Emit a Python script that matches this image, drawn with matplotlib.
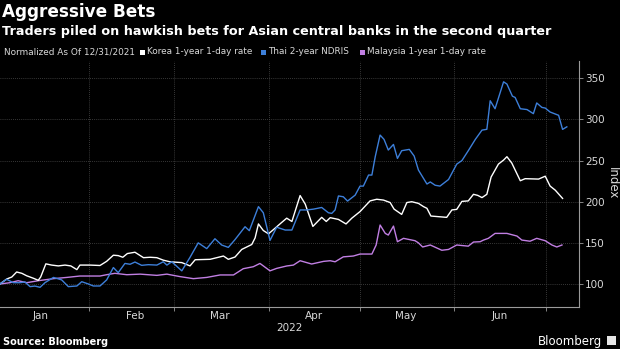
#!/usr/bin/env python3
"""
Aggressive Bets - Bloomberg style line chart of normalized rate bets
"""

import datetime as dt
import matplotlib
matplotlib.use("Agg")
import matplotlib.pyplot as plt
import matplotlib.dates as mdates
from matplotlib.patches import Rectangle

# Data (x = days after 2022-01-01, y = index, 12/31/2021 = 100)
korea_days = [1.6, 3.8, 5.5, 7.1, 8.8, 10.4, 12.6, 14.2, 15.0, 16.7, 18.6, 20.8, 23.0, 24.9,
              26.9, 27.9, 31.2, 34.5, 36.7, 38.9, 40.5, 42.0, 43.5, 46.0, 48.8, 51.0, 53.2,
              55.3, 57.5, 61.4, 64.1, 65.8, 70.7, 75.1, 76.7, 78.9, 81.1, 84.4, 85.5, 86.6,
              88.2, 89.9, 91.5, 94.3, 95.9, 97.6, 100.3, 102.0, 104.5, 107.4, 108.9, 110.2,
              112.9, 115.4, 117.3, 120.0, 123.3, 125.5, 127.7, 129.9, 131.2, 133.7, 135.4,
              137.0, 139.2, 140.9, 142.0, 143.3, 148.5, 150.2, 151.8, 153.5, 155.6, 157.3,
              158.7, 160.1, 161.7, 163.1, 165.5, 167.2, 168.3, 169.9, 172.7, 174.3, 178.7,
              180.9, 182.5, 184.2, 186.6]
korea_vals = [100, 106, 108.5, 114.6, 113, 110, 107, 104.5, 108.5, 124.5, 123, 122, 123, 122,
              117.5, 123, 123, 122.5, 127.6, 135, 134.5, 132.5, 137, 138.6, 132, 132.5, 132,
              129, 127, 126, 122, 129.5, 130, 134, 130, 132.8, 142, 148, 156, 173,
              165, 161, 166, 175, 180, 176, 207.5, 197, 170, 181, 176, 180.6,
              178.5, 173, 180, 188, 201, 203, 202, 199, 191, 184.6, 199,
              200, 198, 194, 192, 182.6, 181, 190, 190.7, 200.4, 201, 209,
              207.7, 205, 209, 230, 245.7, 250.6, 254.7, 247, 225.5, 228, 227.5,
              231, 219, 214, 204]

thai_days = [1.6, 3.8, 6.0, 8.2, 9.8, 11.5, 13.1, 14.8, 16.4, 19.2, 21.9, 24.1, 26.9, 28.5,
             30.7, 32.3, 34.5, 36.7, 38.9, 40.5, 42.7, 44.4, 46.0, 48.2, 50.4, 53.2, 55.3,
             56.5, 58.1, 61.4, 64.1, 66.8, 69.6, 72.3, 74.5, 76.7, 78.9, 82.2, 83.6, 86.6,
             88.2, 90.4, 92.6, 95.4, 97.6, 100.3, 102.5, 104.7, 107.4, 109.6, 110.7, 111.8,
             112.9, 114.5, 115.9, 118.4, 120.0, 121.1, 122.8, 123.9, 125.0, 126.6, 127.9,
             129.3, 131.0, 132.3, 133.7, 136.2, 137.8, 139.2, 142.0, 143.1, 144.7, 146.3,
             149.1, 151.8, 153.5, 155.6, 157.9, 160.1, 161.7, 162.8, 164.4, 167.2, 168.3,
             170.1, 171.0, 172.7, 174.9, 177.0, 178.1, 179.8, 180.9, 182.5, 185.3, 186.6,
             188.0]
thai_vals = [100, 105.7, 101.6, 101.6, 102.5, 96.8, 97.5, 96, 101.6, 108, 105, 96.8, 97.6, 102.8,
             100, 97.6, 97.6, 105, 120, 113.8, 125, 124, 126.7, 122.7, 123.5, 123, 127,
             123, 127, 116, 132.4, 150, 143, 155, 147.4, 144.5, 154, 169.6, 164.8, 194,
             186.6, 153, 169, 165.6, 165.6, 190, 190, 191, 193, 186.6, 185.8, 190,
             207, 206, 200.8, 208, 219, 219, 232.4, 232.4, 254.7, 281, 275.7,
             262.8, 269.6, 252.6, 262, 263.6, 255.5, 238.5, 221.5, 224, 220, 219,
             227, 245.7, 250, 262, 275.7, 287, 288, 322.7, 313, 345.7, 343,
             328.3, 326.7, 313, 312, 307, 320, 314.6, 313.8, 309, 305, 287.9,
             291]

malaysia_days = [1.6, 4.9, 7.6, 10.4, 14.2, 19.2, 23.6, 27.9, 34.5, 36.7, 39.4, 43.3, 47.7,
                 53.2, 56.5, 60.8, 65.2, 69.6, 74.0, 78.4, 81.6, 84.9, 87.1, 90.4, 92.6,
                 95.9, 98.1, 100.3, 104.1, 108.0, 110.2, 111.8, 114.5, 117.8, 120.0, 123.9,
                 125.3, 126.6, 128.3, 129.3, 131.0, 132.3, 134.3, 138.1, 139.2, 140.6, 143.1,
                 146.9, 149.1, 151.8, 155.6, 157.3, 159.5, 160.6, 162.2, 164.4, 168.3, 171.6,
                 173.2, 175.9, 178.1, 180.9, 183.1, 184.7, 186.4]
malaysia_vals = [100, 101.6, 104, 101.6, 104, 106.5, 108, 109.7, 109.7, 111.3, 113, 111.3, 112,
                 110.5, 112, 109, 106.5, 108, 111, 111, 118.6, 121, 125, 116, 119,
                 121.9, 123, 128.3, 124.3, 127.5, 128.3, 127, 133, 134, 136.4, 136.4,
                 147.4, 171.7, 161.5, 159.5, 170.4, 151.4, 155.5, 152.6, 150, 145, 147.4,
                 141, 142, 147.4, 146, 151, 151.4, 153.4, 155.5, 161.5, 161.5, 158.3,
                 153.4, 152, 155.5, 152.6, 147.4, 145, 147.4]

series_names = ["Korea 1-year 1-day rate", "Thai 2-year NDRIS", "Malaysia 1-year 1-day rate"]
series_colors = ["#ffffff", "#3d7fd9", "#c17fe3"]
month_labels = ["Jan", "Feb", "Mar", "Apr", "May", "Jun"]
y_ticks = [100, 150, 200, 250, 300, 350]

BG = "#000000"
TXT = "#d9d9d9"
GRID = "#4a4a4a"


def to_num(days):
    base = mdates.date2num(dt.datetime(2022, 1, 1))
    return [base + d for d in days]


def main():
    fig = plt.figure(figsize=(6.2, 3.49), dpi=100, facecolor=BG)
    ax = fig.add_axes([0.0, 0.1195, 579 / 620, 0.7043])
    ax.set_facecolor(BG)

    # lines (Malaysia drawn first so blue/white sit on top)
    order = [2, 0, 1]
    data = [(korea_days, korea_vals), (thai_days, thai_vals), (malaysia_days, malaysia_vals)]
    for i in order:
        d, v = data[i]
        ax.plot(to_num(d), v, color=series_colors[i], lw=1.0, solid_joinstyle="round")

    base = mdates.date2num(dt.datetime(2022, 1, 1))
    ax.set_xlim(base + 1.625, base + 192.0)
    ax.set_ylim(71.7, 370.4)

    # month boundaries as major ticks, labels in the middle of months
    major = [mdates.date2num(dt.datetime(2022, m, 1)) for m in range(2, 8)]
    minor = [mdates.date2num(dt.datetime(2022, m, 16)) for m in range(1, 7)]
    ax.set_xticks(major)
    ax.set_xticklabels([""] * len(major))
    ax.set_xticks(minor, minor=True)
    ax.set_xticklabels(month_labels, minor=True)
    ax.tick_params(axis="x", which="major", direction="out", length=3, color="#9a9a9a", width=0.6)
    ax.tick_params(axis="x", which="minor", length=0, pad=3, labelsize=7.5, labelcolor=TXT)

    ax.yaxis.tick_right()
    ax.set_yticks(y_ticks)
    ax.tick_params(axis="y", direction="out", length=3, color="#9a9a9a", width=0.6,
                   labelsize=7.5, labelcolor=TXT, pad=1.5)

    ax.grid(True, which="major", color=GRID, linestyle=(0, (1, 1.5)), lw=0.6)
    ax.set_axisbelow(True)

    for side in ["top", "left"]:
        ax.spines[side].set_visible(False)
    for side in ["right", "bottom"]:
        ax.spines[side].set_color("#9a9a9a")
        ax.spines[side].set_linewidth(0.8)

    # axis label on the right
    fig.text(612 / 620, 1 - 183 / 349, "Index", rotation=270, ha="center", va="center",
             color=TXT, fontsize=8.5)
    fig.text(289 / 620, 1 - 328 / 349, "2022", ha="center", va="center",
             color=TXT, fontsize=7.5)

    # titles
    fig.text(2 / 620, 1 - 12 / 349, "Aggressive Bets", ha="left", va="center",
             color="white", fontsize=12.2, fontweight="bold")
    fig.text(2 / 620, 1 - 31 / 349,
             "Traders piled on hawkish bets for Asian central banks in the second quarter",
             ha="left", va="center", color="white", fontsize=9.2, fontweight="bold")

    # legend row
    ly = 1 - 52 / 349
    fig.text(4 / 620, ly, "Normalized As Of 12/31/2021", ha="left", va="center",
             color=TXT, fontsize=6.4)
    sq_x = [142, 263, 362]
    for i, name in enumerate(series_names):
        fig.patches.append(Rectangle((sq_x[i] / 620 - 2.5 / 620, ly - 2.5 / 349), 5 / 620,
                                     5 / 349, transform=fig.transFigure,
                                     facecolor=series_colors[i], edgecolor="none"))
        fig.text((sq_x[i] + 5) / 620, ly, name, ha="left", va="center",
                 color=TXT, fontsize=6.4)

    # footer
    fig.text(3 / 620, 1 - 342 / 349, "Source: Bloomberg", ha="left", va="center",
             color="white", fontsize=7, fontweight="bold")
    fig.text(602 / 620, 1 - 341 / 349, "Bloomberg", ha="right", va="center",
             color="white", fontsize=8.5)
    fig.patches.append(Rectangle((607 / 620, 1 - 345 / 349), 9 / 620, 9 / 349,
                                 transform=fig.transFigure, facecolor="#e6e6e6",
                                 edgecolor="none"))

    fig.savefig("out.png", dpi=100, facecolor=BG)
    plt.close(fig)


if __name__ == "__main__":
    main()
